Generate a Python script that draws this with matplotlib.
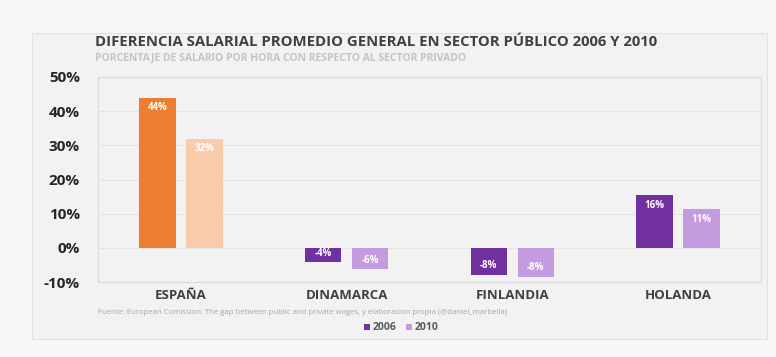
import matplotlib.pyplot as plt
from matplotlib.patches import Rectangle
import numpy as np

countries = ['ESPAÑA', 'DINAMARCA', 'FINLANDIA', 'HOLANDA']
values_2006 = [44.0, -4.2, -7.9, 15.5]
values_2010 = [32.0, -6.2, -8.4, 11.3]
labels_2006 = ['44%', '-4%', '-8%', '16%']
labels_2010 = ['32%', '-6%', '-8%', '11%']
yticks = [-10, 0, 10, 20, 30, 40, 50]

colors_2006 = ['#ED7D31', '#7030A0', '#7030A0', '#7030A0']
colors_2010 = ['#F8CBAD', '#C39BDF', '#C39BDF', '#C39BDF']

plt.rcParams['font.family'] = ['Open Sans', 'DejaVu Sans']

W, H = 776, 357
fig = plt.figure(figsize=(W / 100, H / 100), dpi=100)
fig.patch.set_facecolor('#f8f8f6')

# inner panel
fig.patches.append(Rectangle((32 / W, 1 - 339 / H), (767 - 32) / W, (339 - 33) / H,
                             transform=fig.transFigure, facecolor='#f2f2f2',
                             edgecolor='#e2e2e2', lw=0.8, zorder=-5))

ax = fig.add_axes([98 / W, 1 - 282 / H, (761 - 98) / W, (282 - 77) / H])
ax.set_facecolor('#f2f2f2')
x = np.arange(len(countries))
w = 0.22
off = 0.142
b1 = ax.bar(x - off, values_2006, w, color=colors_2006, zorder=3)
b2 = ax.bar(x + off, values_2010, w, color=colors_2010, zorder=3)

for bars, labs in ((b1, labels_2006), (b2, labels_2010)):
    for b, lab in zip(bars, labs):
        h = b.get_height()
        y = h - 3.0 if h > 0 else h + 2.6
        ax.text(b.get_x() + b.get_width() / 2, y, lab, ha='center', va='center',
                color='white', fontsize=7, fontweight='bold', zorder=4)

ax.set_ylim(-10, 50)
ax.set_xlim(-0.5, 3.5)
ax.set_yticks(yticks)
ax.set_yticklabels([f'{t}%' for t in yticks], fontsize=11, fontweight='bold', color='#262626')
ax.set_xticks(x)
ax.set_xticklabels(countries, fontsize=9.5, fontweight='bold', color='#404040')
ax.tick_params(length=0)
ax.tick_params(axis='y', pad=13)
ax.tick_params(axis='x', pad=5)
ax.grid(axis='y', color='#e4e4e4', lw=0.8, zorder=0)
for s in ax.spines.values():
    s.set_color('#dcdcdc')
    s.set_linewidth(0.8)

fig.text(95 / W, 1 - 42 / H, 'DIFERENCIA SALARIAL PROMEDIO GENERAL EN SECTOR PÚBLICO 2006 Y 2010',
         fontsize=10.7, fontweight='bold', color='#404040', va='center')
fig.text(95 / W, 1 - 58 / H, 'PORCENTAJE DE SALARIO POR HORA CON RESPECTO AL SECTOR PRIVADO',
         fontsize=7.5, fontweight='bold', color='#c4c4c4', va='center')
fig.text(98 / W, 1 - 313 / H,
         'Fuente: European Comission: The gap between public and private wages, y elaboración propia (@daniel_marbella)',
         fontsize=5.6, color='#a6a6a6', va='center')

# legend
fig.patches.append(Rectangle((364 / W, 1 - 330 / H), 6 / W, 6 / H, transform=fig.transFigure,
                             facecolor='#7030A0', edgecolor='none'))
fig.text(373 / W, 1 - 327 / H, '2006', fontsize=7.5, fontweight='bold', color='#595959', va='center')
fig.patches.append(Rectangle((406 / W, 1 - 330 / H), 6 / W, 6 / H, transform=fig.transFigure,
                             facecolor='#C39BDF', edgecolor='none'))
fig.text(415 / W, 1 - 327 / H, '2010', fontsize=7.5, fontweight='bold', color='#595959', va='center')

fig.savefig('out.png', dpi=100, facecolor=fig.get_facecolor())
